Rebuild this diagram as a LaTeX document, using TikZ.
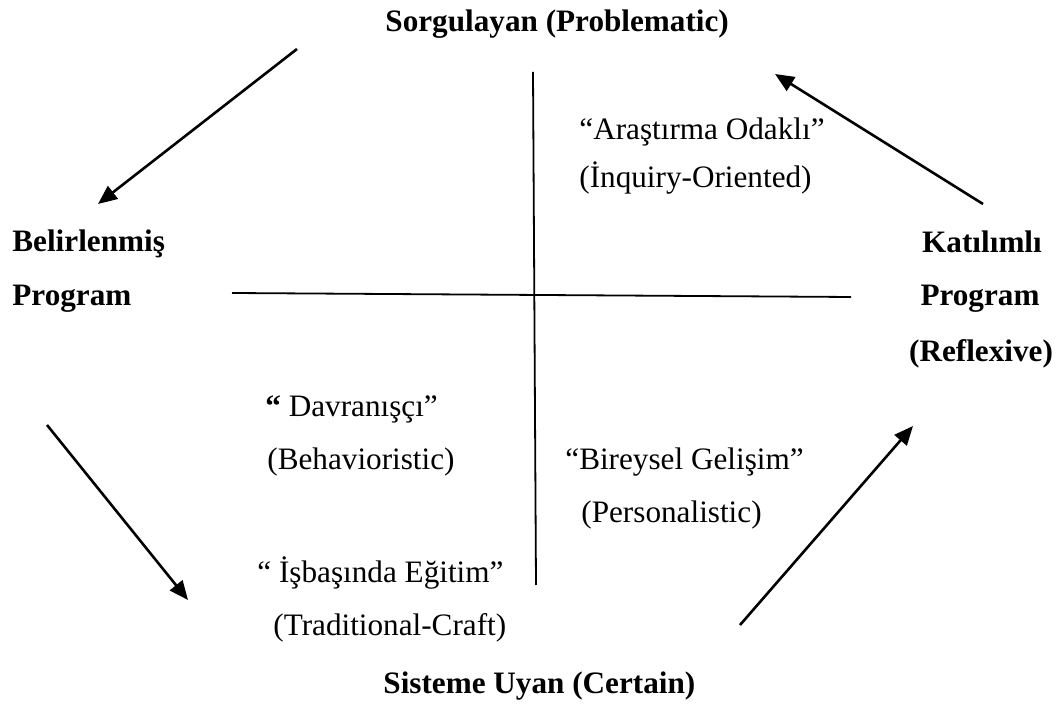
\documentclass[tikz,border=0pt]{standalone}
\usepackage{fontspec}
\setmainfont{Liberation Serif}
\usetikzlibrary{arrows.meta}
\begin{document}
\begin{tikzpicture}[x=0.5pt,y=-0.5pt,
  lbl/.style={inner sep=0pt,anchor=base west,font=\fontsize{15.6}{18}\selectfont},
  pole/.style={lbl,font=\fontsize{15.6}{18}\selectfont\bfseries},
  axis/.style={line width=0.9pt},
  flow/.style={line width=1.3pt,-{Triangle[length=9.5pt,width=8pt]}}]
\useasboundingbox (0,0) rectangle (1060,704);

% poles of the two axes
\node[pole] (top)   at (385,32)  {Sorgulayan (Problematic)};
\node[pole] (left1) at (12,252)  {Belirlenmiş};
\node[pole] (left2) at (12,306)  {Program};
\node[pole,anchor=base] (right1) at (982,253) {Katılımlı};
\node[pole,anchor=base] (right2) at (980,306) {Program};
\node[pole,anchor=base] (right3) at (981,362) {(Reflexive)};
\node[pole] (bottom) at (383,694) {Sisteme Uyan (Certain)};

% quadrant labels
\node[lbl] (q1a) at (579,140) {“Araştırma Odaklı”};
\node[lbl] (q1b) at (579,188) {(İnquiry-Oriented)};
\node[lbl] (q2a) at (265,417) {\textbf{“} Davranışçı”};
\node[lbl] (q2b) at (267,470) {(Behavioristic)};
\node[lbl] (q3a) at (257,583) {“ İşbaşında Eğitim”};
\node[lbl] (q3b) at (273,636) {(Traditional-Craft)};
\node[lbl] (q4a) at (565,470) {“Bireysel Gelişim”};
\node[lbl] (q4b) at (581,523) {(Personalistic)};

% axes
\coordinate (vtop) at (533,72);
\coordinate (vbot) at (536,585);
\coordinate (hl) at (232,293);
\coordinate (hr) at (851,297);
\draw[axis] (vtop) -- (vbot);
\draw[axis] (hl) -- (hr);

% cycle arrows
\coordinate (a1s) at (297,49);  \coordinate (a1e) at (98,204);
\coordinate (a2s) at (47,425);  \coordinate (a2e) at (188,600);
\coordinate (a3s) at (740,625); \coordinate (a3e) at (913,426);
\coordinate (a4s) at (983,204); \coordinate (a4e) at (775,74);
\draw[flow] (a1s) -- (a1e);
\draw[flow] (a2s) -- (a2e);
\draw[flow] (a3s) -- (a3e);
\draw[flow] (a4s) -- (a4e);
\end{tikzpicture}
\end{document}
